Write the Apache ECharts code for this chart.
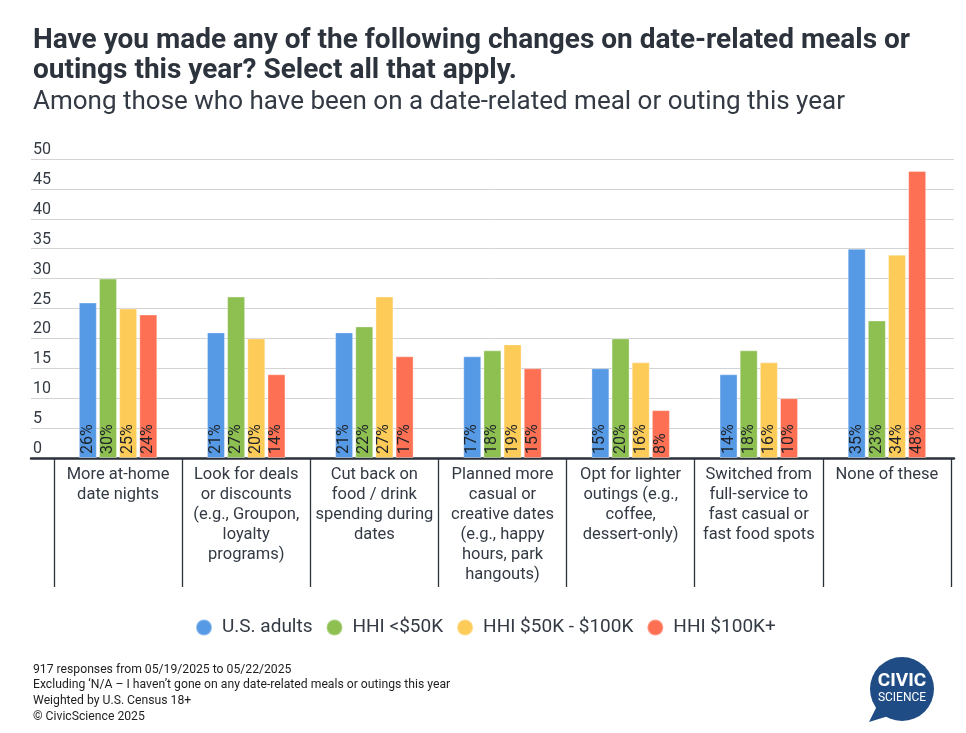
<!DOCTYPE html>
<html>
<head>
<meta charset="utf-8">
<script src="https://cdn.jsdelivr.net/npm/echarts@6/dist/echarts.min.js"></script>
<style>
html,body{margin:0;padding:0;background:#fff;}
#chart{width:966px;height:733px;}
</style>
</head>
<body>
<div id="chart"></div>
<script>
const categories = [
  "More at-home\ndate nights",
  "Look for deals\nor discounts\n(e.g., Groupon,\nloyalty\nprograms)",
  "Cut back on\nfood / drink\nspending during\ndates",
  "Planned more\ncasual or\ncreative dates\n(e.g., happy\nhours, park\nhangouts)",
  "Opt for lighter\noutings (e.g.,\ncoffee,\ndessert-only)",
  "Switched from\nfull-service to\nfast casual or\nfast food spots",
  "None of these"
];
const seriesNames = ["U.S. adults", "HHI <$50K", "HHI $50K - $100K", "HHI $100K+"];
const usAdults = [26, 21, 21, 17, 15, 14, 35];
const hhiUnder50 = [30, 27, 22, 18, 20, 18, 23];
const hhi50to100 = [25, 20, 27, 19, 16, 16, 34];
const hhi100plus = [24, 14, 17, 15, 8, 10, 48];
const yTicks = [0, 5, 10, 15, 20, 25, 30, 35, 40, 45, 50];

const colors = ["#5699e4", "#8dbf51", "#fdcb57", "#fd7053"];
const seriesData = [usAdults, hhiUnder50, hhi50to100, hhi100plus];
const FONT = "Roboto";
const TXT = "#333a44";

const chart = echarts.init(document.getElementById('chart'));

const series = seriesNames.map((name, i) => ({
  name: name,
  type: 'bar',
  xAxisIndex: 1,
  yAxisIndex: 1,
  data: seriesData[i],
  barWidth: 18,
  barGap: '12%',
  itemStyle: { color: colors[i], borderColor: 'rgba(255,255,255,0.35)', borderWidth: 1 },
  label: {
    show: true,
    position: 'insideBottom',
    rotate: 90,
    align: 'left',
    verticalAlign: 'middle',
    distance: 4,
    formatter: '{c}%',
    fontFamily: FONT,
    fontSize: 16,
    color: '#1f232a'
  },
  z: 3
}));

const option = {
  animation: false,
  backgroundColor: '#ffffff',
  textStyle: { fontFamily: FONT },
  title: [
    {
      text: "Have you made any of the following changes on date-related meals or\noutings this year? Select all that apply.",
      left: 33, top: 26, padding: 0,
      textStyle: { fontFamily: FONT, fontSize: 28, fontWeight: 'bold', color: '#2d333c', lineHeight: 30 }
    },
    {
      text: "Among those who have been on a date-related meal or outing this year",
      left: 33, top: 87, padding: 0,
      textStyle: { fontFamily: FONT, fontSize: 26, fontWeight: 'normal', color: TXT, lineHeight: 30 }
    },
    {
      text: "917 responses from 05/19/2025 to 05/22/2025\nExcluding \u2018N/A \u2013 I haven\u2019t gone on any date-related meals or outings this year\nWeighted by U.S. Census 18+\n\u00a9 CivicScience 2025",
      left: 33, top: 662, padding: 0,
      textStyle: { fontFamily: FONT, fontSize: 12.2, fontWeight: 'normal', color: '#1e1e1e', lineHeight: 15.6 }
    }
  ],
  legend: {
    data: seriesNames,
    left: 190, top: 613,
    icon: 'circle',
    itemWidth: 16, itemHeight: 16,
    itemGap: 13,
    textStyle: { fontFamily: FONT, fontSize: 19, color: TXT, padding: [0, 0, 0, 5] }
  },
  grid: [
    { left: 31, right: 12, top: 159, bottom: 275 },
    { left: 54, right: 15, top: 159, bottom: 275 }
  ],
  xAxis: [
    {
      type: 'category', gridIndex: 0, data: categories,
      axisLine: { show: true, lineStyle: { color: '#2b313a', width: 2.5 } },
      axisTick: { show: false }, axisLabel: { show: false }, splitLine: { show: false }
    },
    {
      type: 'category', gridIndex: 1, data: categories,
      axisLine: { show: false },
      axisTick: { show: true, length: 129, alignWithLabel: false, lineStyle: { color: '#2b313a', width: 1.3 } },
      axisLabel: {
        interval: 0, margin: 7,
        fontFamily: FONT, fontSize: 16.5, lineHeight: 20, color: TXT, align: 'center'
      },
      splitLine: { show: false }
    }
  ],
  yAxis: [
    {
      type: 'value', gridIndex: 0, min: 0, max: 50, interval: 5,
      axisLine: { show: false }, axisTick: { show: false },
      splitLine: { show: true, lineStyle: { color: '#d3d3d3', width: 1 } },
      axisLabel: {
        show: true, align: 'left', verticalAlign: 'bottom', margin: -2,
        padding: [0, 0, 1, 0],
        fontFamily: FONT, fontSize: 16, color: TXT,
        formatter: function (v) { return yTicks.indexOf(v) >= 0 ? String(v) : ''; }
      }
    },
    {
      type: 'value', gridIndex: 1, min: 0, max: 50, interval: 5,
      show: false, splitLine: { show: false }
    }
  ],
  series: series,
  graphic: [
    {
      type: 'group',
      children: [
        { type: 'polygon', shape: { points: [[880, 700], [895, 714], [869, 722]] }, style: { fill: '#1f4c84' } },
        { type: 'circle', shape: { cx: 902, cy: 689, r: 32 }, style: { fill: '#1f4c84' } },
        { type: 'text', x: 902, y: 681, style: { text: 'CIVIC', fill: '#ffffff', font: 'bold 19px Roboto', align: 'center', verticalAlign: 'middle' } },
        { type: 'text', x: 902, y: 698, style: { text: 'SCIENCE', fill: '#ffffff', font: '12px Roboto', align: 'center', verticalAlign: 'middle' } }
      ]
    }
  ]
};
chart.setOption(option);
</script>
</body>
</html>
